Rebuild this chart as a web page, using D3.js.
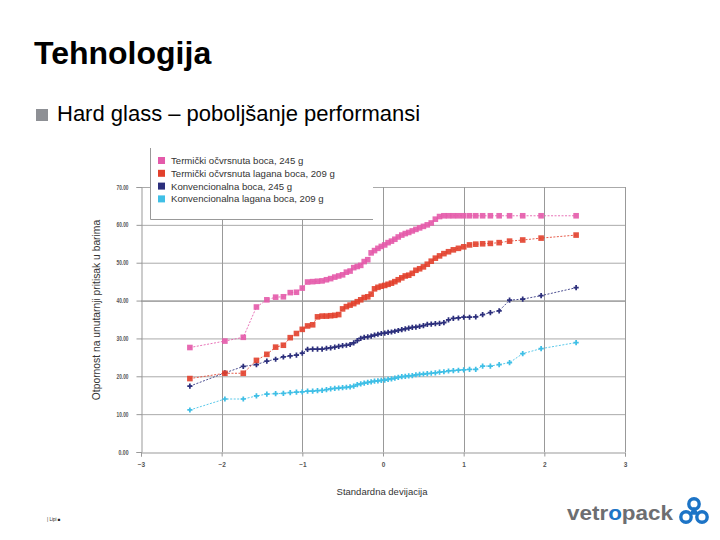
<!DOCTYPE html>
<html lang="hr">
<head>
<meta charset="UTF-8">
<title>Tehnologija</title>
<style>
  body { margin: 0; background: #fff; }
  svg { display: block; }
</style>
</head>
<body>
<svg id="slide" width="720" height="540"></svg>
<script src="https://cdn.jsdelivr.net/npm/d3@7"></script>
<script>
// normal scores (standard deviations) shared by all four series
var zScores = [-2.394,-1.960,-1.732,-1.569,-1.440,-1.331,-1.235,-1.150,-1.073,-1.001,
  -0.935,-0.872,-0.812,-0.755,-0.701,-0.649,-0.598,-0.549,-0.501,-0.454,
  -0.408,-0.363,-0.319,-0.276,-0.233,-0.189,-0.147,-0.105,-0.063,-0.021,
  0.021,0.063,0.105,0.147,0.189,0.233,0.276,0.319,0.363,0.408,
  0.454,0.501,0.549,0.598,0.649,0.701,0.755,0.812,0.872,0.935,
  1.001,1.073,1.150,1.235,1.331,1.440,1.569,1.732,1.960,2.394];

var pinkVals = [27.6,29.3,30.3,38.3,40.2,40.9,41.0,42.1,42.2,43.3,
  44.9,45.0,45.1,45.2,45.5,45.8,46.2,46.5,46.8,47.5,
  47.8,48.7,49.0,49.3,50.3,50.8,52.6,53.2,53.8,54.3,
  54.7,55.3,55.7,56.2,56.8,57.3,57.7,58.0,58.4,58.8,
  59.2,59.6,60.0,60.5,61.5,62.2,62.4,62.4,62.4,62.4,
  62.4,62.4,62.4,62.4,62.4,62.4,62.4,62.4,62.4,62.4];

var redVals = [19.4,20.8,20.8,24.2,25.8,27.7,28.2,30.2,31.3,32.4,
  33.3,33.6,35.7,35.9,35.9,36.0,36.1,36.3,37.8,38.4,
  38.8,39.2,39.7,40.2,40.8,41.0,41.7,43.1,43.5,43.8,
  44.0,44.3,44.6,45.0,45.5,46.0,46.5,46.7,47.2,48.0,
  48.4,48.9,49.6,50.4,51.2,51.8,52.4,52.9,53.4,53.8,
  54.2,54.7,54.9,55.0,55.1,55.3,55.7,56.0,56.5,57.3];

var navyVals = [17.4,20.9,22.6,23.1,24.0,24.5,25.1,25.4,25.6,26.1,
  27.1,27.2,27.2,27.2,27.4,27.5,27.7,27.9,28.1,28.2,
  28.4,28.8,29.4,30.0,30.3,30.4,30.6,30.9,31.1,31.3,
  31.4,31.6,31.7,31.9,32.1,32.3,32.5,32.7,32.9,33.0,
  33.2,33.4,33.7,33.8,33.9,34.0,34.2,34.9,35.3,35.4,
  35.6,35.6,35.7,36.3,36.8,37.3,40.1,40.4,41.3,43.4];

var cyanVals = [11.1,14.0,14.0,14.8,15.3,15.4,15.5,15.7,15.8,15.9,
  16.1,16.1,16.2,16.3,16.5,16.7,16.8,16.9,17.0,17.1,
  17.2,17.4,17.8,18.0,18.2,18.4,18.5,18.7,18.8,18.9,
  19.0,19.2,19.3,19.5,19.7,19.9,20.0,20.1,20.2,20.4,
  20.5,20.6,20.7,20.8,20.9,21.1,21.2,21.4,21.5,21.6,
  21.7,21.8,21.8,22.7,22.7,23.1,23.6,26.0,27.3,28.9];

var seriesNames = ["Termički očvrsnuta boca, 245 g",
  "Termički očvrsnuta lagana boca, 209 g",
  "Konvencionalna boca, 245 g",
  "Konvencionalna lagana boca, 209 g"];
var seriesColors = ["#e45aaa", "#e2402c", "#2c2f7c", "#3fbfe6"];
var seriesMarkers = ["square", "square", "plus", "plus"];
var seriesValues = [pinkVals, redVals, navyVals, cyanVals];

var yTicks = [0, 10, 20, 30, 40, 50, 60, 70];
var xTicks = [-3, -2, -1, 0, 1, 2, 3];

var svg = d3.select("#slide");

// slide heading
svg.append("text").attr("x", 34).attr("y", 64)
  .style("font-family", "Liberation Sans, Arial, sans-serif")
  .style("font-size", "32px").style("font-weight", "bold")
  .text("Tehnologija");

svg.append("rect").attr("x", 36).attr("y", 109).attr("width", 12).attr("height", 12)
  .attr("fill", "#8e9095");
svg.append("text").attr("x", 57).attr("y", 121)
  .style("font-family", "Liberation Sans, Arial, sans-serif")
  .style("font-size", "22px")
  .text("Hard glass – poboljšanje performansi");

// chart
var x = d3.scaleLinear().domain([-3, 3]).range([141, 625]);
var y = d3.scaleLinear().domain([0, 70]).range([452, 187]);

var chart = svg.append("g");

// grid
chart.selectAll(".hgrid").data(yTicks.slice(1)).enter().append("line")
  .attr("x1", x(-3)).attr("x2", x(3))
  .attr("y1", function(d) { return y(d) + 0.5; })
  .attr("y2", function(d) { return y(d) + 0.5; })
  .attr("stroke", function(d) { return d == 40 ? "#666" : "#aaa"; })
  .attr("stroke-width", 1);

chart.selectAll(".vgrid").data(xTicks.slice(1)).enter().append("line")
  .attr("x1", function(d) { return Math.round(x(d)) + 0.5; })
  .attr("x2", function(d) { return Math.round(x(d)) + 0.5; })
  .attr("y1", y(70)).attr("y2", y(0))
  .attr("stroke", "#999").attr("stroke-width", 1);

// axes
var yAxis = chart.append("g").attr("transform", "translate(" + (x(-3) + 0.5) + ",0)")
  .call(d3.axisLeft(y).tickValues(yTicks).tickFormat(d3.format(".2f")).tickSize(5).tickPadding(8));
var xAxis = chart.append("g").attr("transform", "translate(0," + (y(0) + 0.5) + ")")
  .call(d3.axisBottom(x).tickValues(xTicks).tickFormat(d3.format("d")).tickSize(4).tickPadding(6));

[yAxis, xAxis].forEach(function(a) {
  a.select(".domain").attr("stroke", "#999");
  a.selectAll(".tick line").attr("stroke", "#999");
  a.selectAll(".tick text").attr("fill", "#555")
    .style("font-family", "Liberation Sans, Arial, sans-serif")
    .style("font-size", "6.5px").style("font-weight", "bold");
});
yAxis.selectAll(".tick text").attr("textLength", function(d) { return d >= 10 ? 12 : 10; })
  .attr("lengthAdjust", "spacingAndGlyphs");

// series, drawn back to front
var line = d3.line()
  .x(function(d) { return x(d[0]); })
  .y(function(d) { return y(d[1]); });

[3, 2, 1, 0].forEach(function(s) {
  var pts = zScores.map(function(z, i) { return [z, seriesValues[s][i]]; });
  var g = chart.append("g");
  g.append("path").datum(pts).attr("d", line)
    .attr("fill", "none").attr("stroke", seriesColors[s])
    .attr("stroke-width", 1).attr("stroke-dasharray", "2,1.5").attr("opacity", 0.85);
  if (seriesMarkers[s] == "square") {
    g.selectAll("rect").data(pts).enter().append("rect")
      .attr("x", function(d) { return x(d[0]) - 2.8; })
      .attr("y", function(d) { return y(d[1]) - 2.8; })
      .attr("width", 5.6).attr("height", 5.6)
      .attr("fill", seriesColors[s]).attr("opacity", 0.9);
  } else {
    g.selectAll("path.m").data(pts).enter().append("path").attr("class", "m")
      .attr("d", d3.symbol().type(d3.symbolCross).size(15))
      .attr("transform", function(d) { return "translate(" + x(d[0]) + "," + y(d[1]) + ")"; })
      .attr("fill", seriesColors[s]);
  }
});

// legend box
var lg = chart.append("g");
lg.append("rect").attr("x", 150).attr("y", 148).attr("width", 223).attr("height", 71)
  .attr("fill", "#fff");
lg.append("path").attr("d", "M150.5,148V219.5H373")
  .attr("fill", "none").attr("stroke", "#999");
seriesNames.forEach(function(n, i) {
  var cy = 160.5 + i * 12.8;
  lg.append("rect").attr("x", 158).attr("y", cy - 3.5).attr("width", 7).attr("height", 7)
    .attr("fill", seriesColors[i]);
  lg.append("text").attr("x", 171).attr("y", cy + 3.4)
    .style("font-family", "Liberation Sans, Arial, sans-serif")
    .style("font-size", "9.6px").attr("fill", "#333")
    .text(n);
});

// axis titles
chart.append("text").attr("transform", "translate(100,310) rotate(-90)")
  .attr("text-anchor", "middle")
  .style("font-family", "Liberation Sans, Arial, sans-serif")
  .style("font-size", "10.3px").attr("fill", "#333")
  .text("Otpornost na unutarnji pritisak u barima");
chart.append("text").attr("x", 382).attr("y", 495)
  .attr("text-anchor", "middle")
  .style("font-family", "Liberation Sans, Arial, sans-serif")
  .style("font-size", "9.5px").attr("fill", "#333")
  .text("Standardna devijacija");

// footer
svg.append("text").attr("x", 47).attr("y", 521)
  .style("font-family", "Liberation Sans, Arial, sans-serif")
  .style("font-size", "4.5px").attr("fill", "#222")
  .text("| Lipi ■");

var logo = svg.append("text").attr("x", 567).attr("y", 520)
  .attr("textLength", 106).attr("lengthAdjust", "spacingAndGlyphs")
  .style("font-family", "Liberation Sans, Arial, sans-serif")
  .style("font-size", "21px").style("font-weight", "bold").attr("fill", "#6d6e71");
logo.append("tspan").text("vetr");
logo.append("tspan").attr("fill", "#1d74c6").text("o");
logo.append("tspan").text("pack");

var mark = svg.append("g").attr("stroke", "#1d74c6").attr("fill", "none").attr("stroke-width", 3.4);
[[694, 504], [686, 517], [702, 517]].forEach(function(c) {
  mark.append("circle").attr("cx", c[0]).attr("cy", c[1]).attr("r", 5.2);
});
mark.append("path").attr("d", "M694,508 L690,514 L698,514 Z").attr("fill", "#1d74c6").attr("stroke-width", 1.5);
</script>
</body>
</html>
